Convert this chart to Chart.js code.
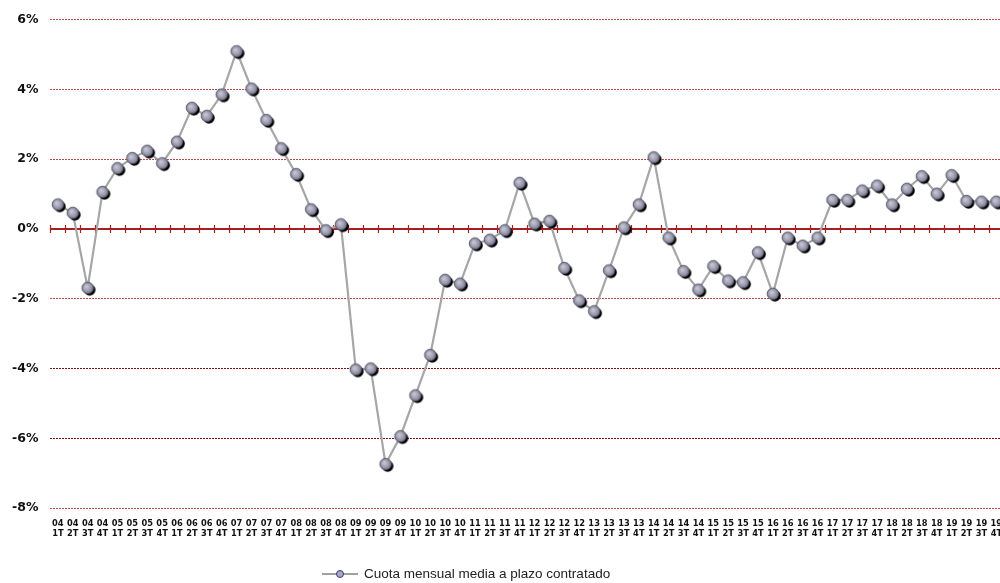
<!DOCTYPE html>
<html>
<head>
<meta charset="utf-8">
<script src="https://cdn.jsdelivr.net/npm/chart.js@4.4.1/dist/chart.umd.min.js"></script>
<style>
  html, body { margin: 0; padding: 0; background: #fff; overflow: hidden; }
  #wrap { position: absolute; left: 0; top: 0; width: 1012px; height: 583px; }
  #legend {
    position: absolute; left: 322px; top: 566px;
    font-family: 'Liberation Sans', Arial, sans-serif; font-size: 13.5px; color: #222;
    display: flex; align-items: center; white-space: nowrap;
  }
  #legend svg { margin-right: 6px; }
</style>
</head>
<body>
<div id="wrap"><canvas id="cuotaChart"></canvas></div>
<div id="legend">
  <svg width="36" height="12"><line x1="0" y1="6" x2="36" y2="6" stroke="#a0a0a0" stroke-width="2"/><circle cx="18" cy="6" r="3.5" fill="#a8a8c8" stroke="#3a3a70" stroke-width="1"/></svg>
  <span>Cuota mensual media a plazo contratado</span>
</div>
<script>
// =================================================================
// Cuota mensual media a plazo contratado — variación trimestral
// =================================================================

const years = ['04','05','06','07','08','09','10','11','12','13','14','15','16','17','18','19'];
const quarters = ['1T','2T','3T','4T'];

// valores (%), 2004 1T .. 2019 4T
const cuotaValues = [
    0.70, 0.46, -1.69, 1.06,
    1.74, 2.03, 2.24, 1.88,
    2.50, 3.47, 3.24, 3.85,
    5.09, 4.02, 3.12, 2.31,
    1.57, 0.56, -0.04, 0.13,
    -4.03, -4.00, -6.74, -5.94,
    -4.77, -3.61, -1.46, -1.57,
    -0.42, -0.31, -0.04, 1.32,
    0.15, 0.23, -1.12, -2.05,
    -2.36, -1.19, 0.04, 0.70,
    2.05, -0.25, -1.21, -1.74,
    -1.07, -1.48, -1.53, -0.67,
    -1.86, -0.25, -0.48, -0.25,
    0.83, 0.83, 1.10, 1.24,
    0.70, 1.15, 1.51, 1.01,
    1.54, 0.80, 0.78, 0.78
];

const yTicks = [6, 4, 2, 0, -2, -4, -6, -8];

const labels = [];
years.forEach(y => quarters.forEach(q => labels.push([y, q])));

/**
 * Bola gris con sombra negra, usada como pointStyle
 */
function makeBall() {
    const c = document.createElement('canvas');
    c.width = 20; c.height = 20;
    const g = c.getContext('2d');
    g.fillStyle = '#000';
    g.beginPath(); g.arc(12, 12, 5.8, 0, Math.PI * 2); g.fill();
    const grad = g.createRadialGradient(8.5, 8.5, 0.5, 10, 10, 6);
    grad.addColorStop(0, '#c8c8d4');
    grad.addColorStop(0.6, '#9c9cae');
    grad.addColorStop(1, '#6a6a80');
    g.fillStyle = grad;
    g.beginPath(); g.arc(10, 10, 5.8, 0, Math.PI * 2); g.fill();
    g.strokeStyle = '#50506a';
    g.lineWidth = 0.8;
    g.stroke();
    return c;
}

// línea del 0% con marcas entre trimestres
const zeroLinePlugin = {
    id: 'zeroLine',
    beforeDatasetsDraw(chart) {
        const { ctx, chartArea, scales } = chart;
        const y0 = scales.y.getPixelForValue(0);
        const xs = scales.x;
        const half = (xs.getPixelForValue(1) - xs.getPixelForValue(0)) / 2;
        ctx.save();
        ctx.strokeStyle = '#a52020';
        ctx.lineWidth = 2;
        ctx.beginPath();
        ctx.moveTo(chartArea.left, y0);
        ctx.lineTo(chartArea.right, y0);
        ctx.stroke();
        ctx.lineWidth = 1.2;
        ctx.beginPath();
        for (let i = 0; i <= labels.length; i++) {
            const x = Math.round(xs.getPixelForValue(i) - half) + 0.5;
            ctx.moveTo(x, y0 - 4);
            ctx.lineTo(x, y0 + 4);
        }
        ctx.stroke();
        ctx.restore();
    }
};

const ctx = document.getElementById('cuotaChart');

new Chart(ctx, {
    type: 'line',
    data: {
        labels: labels,
        datasets: [{
            label: 'Cuota mensual media a plazo contratado',
            data: cuotaValues,
            borderColor: '#a6a6a6',
            borderWidth: 2.2,
            tension: 0,
            fill: false,
            pointStyle: makeBall(),
            pointRadius: 6,
            pointHoverRadius: 6,
        }]
    },
    options: {
        responsive: true,
        maintainAspectRatio: false,
        animation: false,
        layout: { padding: { left: 0, top: 9, right: 0, bottom: 41 } },
        plugins: {
            legend: { display: false },
            tooltip: { enabled: false }
        },
        scales: {
            x: {
                offset: true,
                grid: { display: false },
                border: { display: false },
                ticks: {
                    autoSkip: false,
                    maxRotation: 0,
                    minRotation: 0,
                    padding: 3,
                    color: '#111',
                    font: { family: "'DejaVu Sans', Verdana, sans-serif", size: 8.3, weight: 'bold', lineHeight: 1.2 }
                }
            },
            y: {
                min: -8,
                max: 6,
                afterBuildTicks: function(axis) {
                    axis.ticks = yTicks.map(v => ({ value: v }));
                },
                grid: {
                    drawTicks: false,
                    color: function(c) {
                        const v = c.tick.value;
                        if (v === 0) return 'rgba(0,0,0,0)';
                        if (v === -4 || v === -6) return '#7a1010';
                        return '#b54848';
                    },
                    lineWidth: 1
                },
                border: { display: false, dash: [2, 1] },
                ticks: {
                    padding: 12,
                    color: '#111',
                    font: { family: "'DejaVu Sans', Verdana, sans-serif", size: 12.5, weight: 'bold' },
                    callback: function(v) { return v + '%'; }
                }
            }
        }
    },
    plugins: [zeroLinePlugin]
});
</script>
</body>
</html>
